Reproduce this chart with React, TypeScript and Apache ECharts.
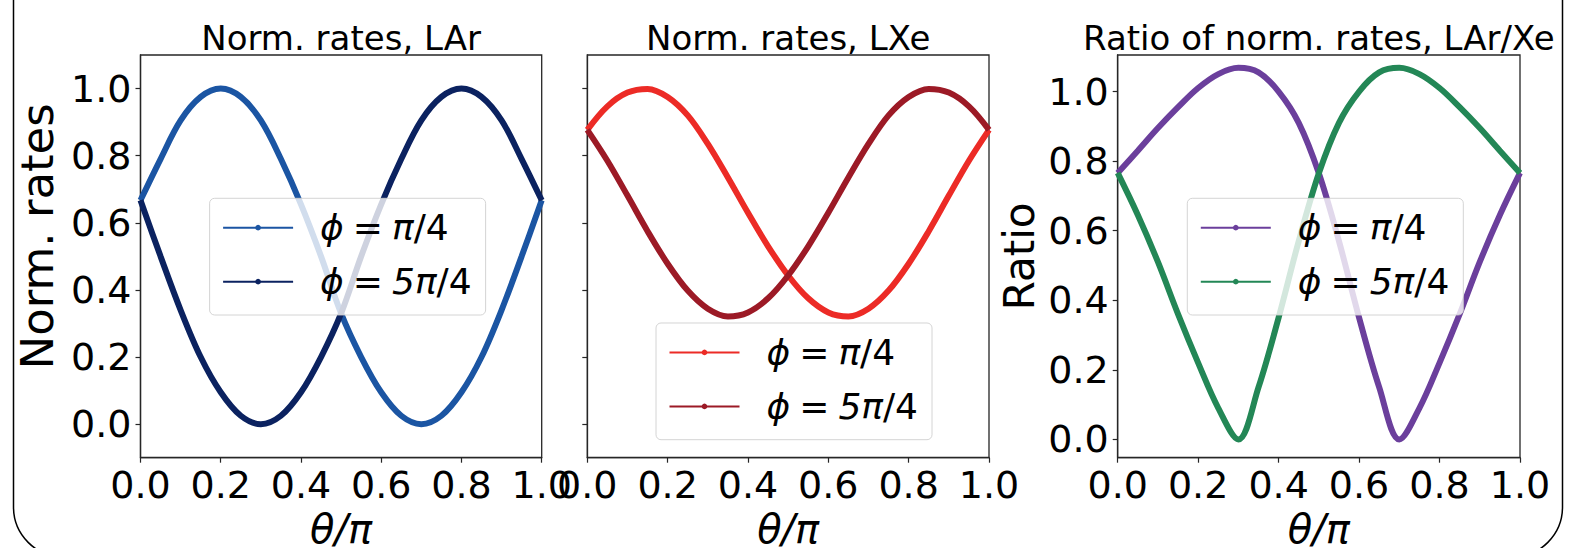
import React, { useEffect, useRef } from "react";
import * as echarts from "echarts";

// ---------------- data ----------------
const theta = [0, 0.05, 0.1, 0.15, 0.2, 0.25, 0.3, 0.35, 0.4, 0.45, 0.5, 0.55, 0.6, 0.65, 0.7, 0.75, 0.8, 0.85, 0.9, 0.95, 1.0];

const larPhiPi4 = [0.667, 0.79, 0.905, 0.975, 1.0, 0.975, 0.905, 0.79, 0.655, 0.5, 0.33, 0.2, 0.095, 0.025, 0.0, 0.025, 0.095, 0.2, 0.34, 0.5, 0.667];
const larPhi5Pi4 = [0.667, 0.5, 0.34, 0.2, 0.095, 0.025, 0.0, 0.025, 0.095, 0.2, 0.33, 0.5, 0.655, 0.79, 0.905, 0.975, 1.0, 0.975, 0.905, 0.79, 0.667];

const lxePhiPi4 = [0.877, 0.947, 0.988, 0.999, 0.975, 0.92, 0.835, 0.735, 0.63, 0.53, 0.443, 0.375, 0.333, 0.321, 0.344, 0.398, 0.478, 0.575, 0.681, 0.785, 0.877];
const lxePhi5Pi4 = [0.877, 0.785, 0.681, 0.575, 0.478, 0.398, 0.344, 0.321, 0.333, 0.375, 0.443, 0.53, 0.63, 0.735, 0.835, 0.92, 0.975, 0.999, 0.988, 0.947, 0.877];

const ratioPhiPi4 = [0.766, 0.83, 0.895, 0.955, 1.01, 1.05, 1.068, 1.055, 1.0, 0.91, 0.765, 0.57, 0.35, 0.15, 0.0, 0.09, 0.22, 0.36, 0.51, 0.645, 0.766];
const ratioPhi5Pi4 = [0.766, 0.645, 0.51, 0.36, 0.22, 0.09, 0.0, 0.15, 0.35, 0.57, 0.765, 0.91, 1.0, 1.055, 1.068, 1.05, 1.01, 0.955, 0.895, 0.83, 0.766];

const xTicks = [0, 0.2, 0.4, 0.6, 0.8, 1.0];
const yTicks = [0, 0.2, 0.4, 0.6, 0.8, 1.0];

const panelTitles = ["Norm. rates, LAr", "Norm. rates, LXe", "Ratio of norm. rates, LAr/Xe"];
const yAxisNames = ["Norm. rates", "", "Ratio"];
const xAxisName = "θ/π";
const legendLabels = ["{f|ϕ}\u2005=\u2005{i|π}/4", "{f|ϕ}\u2005=\u2005{i|5π}/4"];
const seriesNames = [
  ["LAr pi/4", "LAr 5pi/4"],
  ["LXe pi/4", "LXe 5pi/4"],
  ["Ratio pi/4", "Ratio 5pi/4"],
];
const seriesValues = [
  [larPhiPi4, larPhi5Pi4],
  [lxePhiPi4, lxePhi5Pi4],
  [ratioPhiPi4, ratioPhi5Pi4],
];

// ---------------- styling ----------------
const FONT = "DejaVu Sans";
const seriesColors = [
  ["#1b55a3", "#0b2260"],
  ["#ec2b26", "#9c1a26"],
  ["#6b3f9c", "#238756"],
];
const grids = [
  { left: 140.5, top: 55, width: 401.2, height: 402.7 },
  { left: 587.3, top: 55, width: 401.7, height: 402.7 },
  { left: 1117.7, top: 55, width: 402.3, height: 402.7 },
];
const yRanges = [
  [-0.1, 1.1],
  [-0.1, 1.1],
  [-0.0526, 1.105],
];
const legendPos = [
  { left: 209.6, top: 198.3 },
  { left: 656, top: 323 },
  { left: 1187.3, top: 198.3 },
];
const yNameGaps = [81, 0, 77];
const yNameFonts = [45, 42, 42];
const yNameShift = [40, 0, 0];

function buildOption() {
  const spine = "#262626";
  const tickFont = 38;
  const xLabelFont = 40;

  const grid = grids.map((g) => ({
    ...g,
    show: true,
    borderColor: spine,
    borderWidth: 1.3,
    containLabel: false,
    outerBoundsMode: "none",
  }));

  const xAxis = grids.map((_, i) => ({
    type: "value",
    gridIndex: i,
    min: 0,
    max: 1,
    interval: 0.2,
    name: xAxisName,
    nameLocation: "middle",
    nameGap: 40,
    nameTextStyle: {
      fontFamily: FONT,
      fontSize: xLabelFont,
      fontStyle: "italic",
      lineHeight: 40,
      color: "#000",
    },
    axisLine: { show: true, onZero: false, lineStyle: { color: spine, width: 1.3 } },
    axisTick: { show: true, length: 5, lineStyle: { color: spine, width: 1.2 } },
    axisLabel: {
      show: true,
      margin: 8,
      fontFamily: FONT,
      fontSize: tickFont,
      color: "#000",
      formatter: (v: number) => v.toFixed(1),
      customValues: xTicks,
    },
    splitLine: { show: false },
  }));

  const yAxis = grids.map((_, i) => ({
    type: "value",
    gridIndex: i,
    min: yRanges[i][0],
    max: yRanges[i][1],
    name: yAxisNames[i],
    nameLocation: "middle",
    nameRotate: 90,
    nameGap: yNameGaps[i],
    nameTextStyle: {
      fontFamily: FONT,
      fontSize: yNameFonts[i],
      color: "#000",
      padding: [0, 0, 0, yNameShift[i]],
    },
    axisLine: { show: true, onZero: false, lineStyle: { color: spine, width: 1.3 } },
    axisTick: { show: true, length: 5, customValues: yTicks, lineStyle: { color: spine, width: 1.2 } },
    axisLabel: {
      show: i !== 1,
      margin: 9,
      fontFamily: FONT,
      fontSize: tickFont,
      color: "#000",
      customValues: yTicks,
      formatter: (v: number) => v.toFixed(1),
    },
    splitLine: { show: false },
  }));

  const series: any[] = [];
  seriesValues.forEach((pair, p) => {
    pair.forEach((vals, k) => {
      series.push({
        type: "line",
        name: seriesNames[p][k],
        xAxisIndex: p,
        yAxisIndex: p,
        data: theta.map((t, j) => [t, vals[j]]),
        smooth: 0.35,
        symbol: "circle",
        showSymbol: false,
        clip: true,
        lineStyle: { color: seriesColors[p][k], width: 6 },
        itemStyle: { color: seriesColors[p][k], borderWidth: 0 },
        emphasis: { disabled: true },
        z: 2,
      });
    });
  });

  const legend = legendPos.map((pos, p) => ({
    orient: "vertical",
    left: pos.left,
    top: pos.top,
    itemWidth: 70,
    itemHeight: 7,
    itemGap: 14,
    padding: [9.4, 14, 13.3, 12.5],
    backgroundColor: "rgba(255,255,255,0.8)",
    borderColor: "rgba(204,204,204,0.85)",
    borderWidth: 1,
    borderRadius: 5,
    selectedMode: false,
    lineStyle: { width: 2 },
    itemStyle: { borderWidth: 0 },
    data: seriesNames[p],
    formatter: (name: string) => legendLabels[seriesNames[p].indexOf(name)],
    textStyle: {
      fontFamily: FONT,
      fontSize: 36,
      lineHeight: 40,
      color: "#000",
      rich: {
        f: { fontFamily: FONT, fontSize: 36, lineHeight: 40, fontStyle: "italic", color: "#000", padding: [0, 0, 0, 22] },
        i: { fontFamily: FONT, fontSize: 36, lineHeight: 40, fontStyle: "italic", color: "#000" },
      },
    },
  }));

  const title = grids.map((g, i) => ({
    text: panelTitles[i],
    left: g.left + g.width / 2,
    top: 21,
    padding: 0,
    textAlign: "center",
    textStyle: { fontFamily: FONT, fontSize: 34, fontWeight: "normal", color: "#000" },
  }));

  return {
    animation: false,
    backgroundColor: "#ffffff",
    title,
    grid,
    xAxis,
    yAxis,
    legend,
    series,
    graphic: [
      {
        type: "rect",
        silent: true,
        z: 100,
        shape: { x: 13.5, y: -60, width: 1549, height: 617, r: 50 },
        style: { fill: "none", stroke: "#000", lineWidth: 1.5 },
      },
    ],
  };
}

export default function App() {
  const ref = useRef<HTMLDivElement>(null);
  useEffect(() => {
    if (!ref.current) return;
    const chart = echarts.init(ref.current, null, { renderer: "svg" });
    chart.setOption(buildOption() as any);
    return () => chart.dispose();
  }, []);
  return (
    <div
      ref={ref}
      style={{ position: "fixed", left: 0, top: 0, width: 1585, height: 548, background: "#fff" }}
    />
  );
}
